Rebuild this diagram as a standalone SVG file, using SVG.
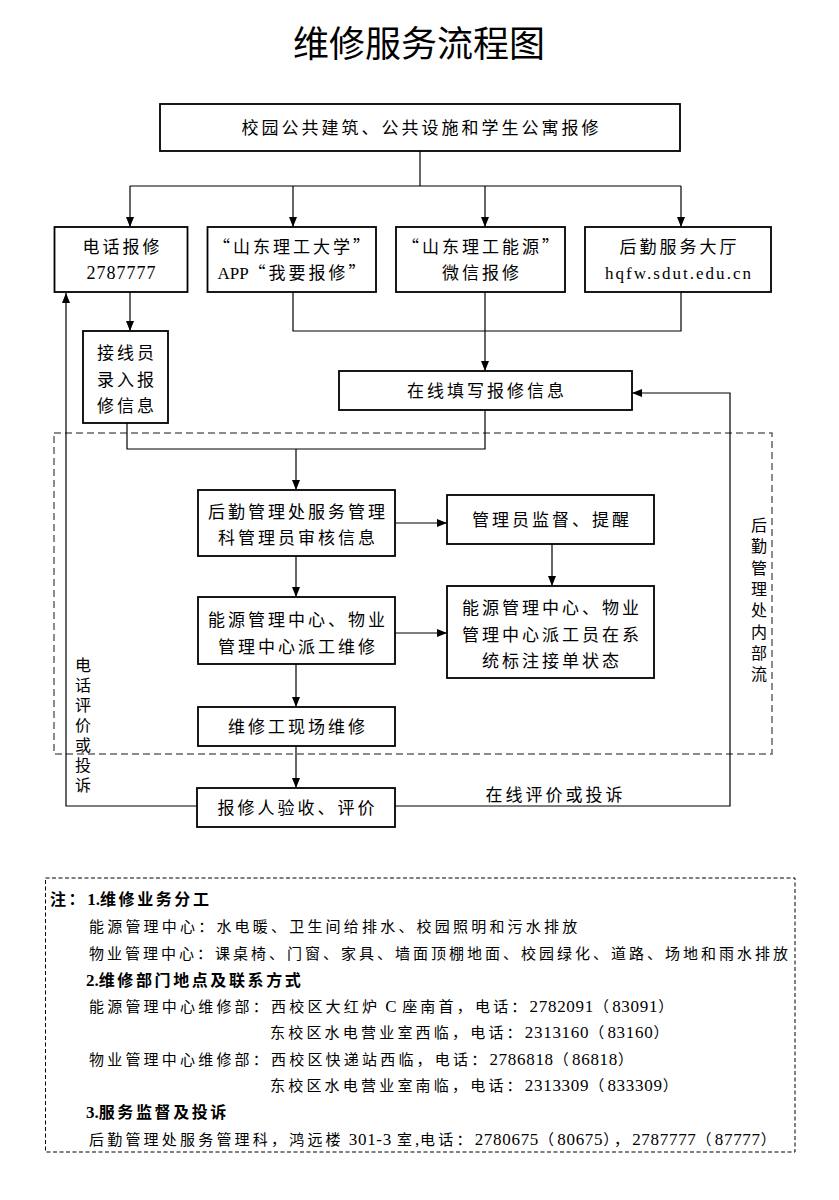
<svg xmlns="http://www.w3.org/2000/svg" width="839" height="1200" viewBox="0 0 839 1200">
<style>
.bx{fill:#fff;stroke:#000;stroke-width:1.8}
.ln{fill:none;stroke:#000;stroke-width:1.2}
.ar{fill:none;stroke:#000;stroke-width:1.2;marker-end:url(#ah)}
.t{font-family:"Noto Sans CJK SC",sans-serif;font-size:17px;letter-spacing:3px;fill:#000;text-anchor:middle}
.v{font-family:"Noto Sans CJK SC",sans-serif;font-size:16px;fill:#000;writing-mode:vertical-rl;text-anchor:start}
.l{font-family:"Liberation Serif",serif}
.n{font-family:"Noto Sans CJK SC",sans-serif;font-size:15px;letter-spacing:3.2px;fill:#000}
.d{font-family:"Liberation Serif",serif;font-size:17px;letter-spacing:0.7px}
.b{font-family:"Noto Sans CJK SC",sans-serif;font-size:16px;font-weight:bold;letter-spacing:2.6px;fill:#000}
.bd{font-family:"Liberation Serif",serif;font-size:17px;font-weight:bold;letter-spacing:0}
</style>
<defs>
<marker id="ah" viewBox="0 0 10 8" refX="10" refY="4" markerWidth="10" markerHeight="8" markerUnits="userSpaceOnUse" orient="auto"><path d="M0,0 L10,4 L0,8 z" fill="#000"/></marker>
</defs>
<rect width="839" height="1200" fill="#fff"/>
<text x="419" y="57" style="font-family:'Noto Sans CJK SC',sans-serif;font-size:36px;text-anchor:middle">维修服务流程图</text>

<g id="inner-dashed">
<rect x="54" y="433" width="718" height="321" fill="none" stroke="#666" stroke-width="1.5" stroke-dasharray="7,4"/>
</g>

<g id="connectors">
<line class="ln" x1="420" y1="151" x2="420" y2="186"/>
<line class="ln" x1="130" y1="186" x2="681" y2="186"/>
<line class="ar" x1="130" y1="186" x2="130" y2="227"/>
<line class="ar" x1="293" y1="186" x2="293" y2="227"/>
<line class="ar" x1="485" y1="186" x2="485" y2="227"/>
<line class="ar" x1="681" y1="186" x2="681" y2="227"/>
<line class="ar" x1="130" y1="292" x2="130" y2="331"/>
<polyline class="ln" points="293,292 293,331 681,331 681,292"/>
<line class="ar" x1="485" y1="292" x2="485" y2="371"/>
<polyline class="ln" points="127,423 127,449 485,449 485,410"/>
<line class="ar" x1="296" y1="449" x2="296" y2="490"/>
<line class="ar" x1="395" y1="523" x2="447" y2="523"/>
<line class="ar" x1="552" y1="544" x2="552" y2="586"/>
<line class="ar" x1="296" y1="556" x2="296" y2="597"/>
<line class="ar" x1="395" y1="633" x2="447" y2="633"/>
<line class="ar" x1="296" y1="664" x2="296" y2="707"/>
<line class="ar" x1="296" y1="746" x2="296" y2="788"/>
<polyline class="ar" points="197,806 66,806 66,293"/>
<polyline class="ar" points="395,806 730,806 730,393 632,393"/>
<text class="t" x="555.5" y="801">在线评价或投诉</text>
</g>

<g id="n-top"><rect class="bx" x="160" y="104" width="520" height="47"/>
<text class="t" x="421.5" y="134">校园公共建筑、公共设施和学生公寓报修</text></g>

<g id="n-phone"><rect class="bx" x="54.5" y="227" width="133" height="65"/>
<text class="t" x="122.5" y="253">电话报修</text>
<text class="l" x="121.5" y="279" style="font-size:18px;letter-spacing:1px;text-anchor:middle">2787777</text></g>

<g id="n-app"><rect class="bx" x="207.5" y="227" width="168.5" height="65"/>
<text class="t" x="293" y="253">“山东理工大学”</text>
<text class="t" x="293" y="279"><tspan class="l" style="letter-spacing:0">APP</tspan>“我要报修”</text></g>

<g id="n-wechat"><rect class="bx" x="396" y="227" width="169" height="65"/>
<text class="t" x="482" y="253">“山东理工能源”</text>
<text class="t" x="482" y="279">微信报修</text></g>

<g id="n-hall"><rect class="bx" x="585" y="227" width="186" height="65"/>
<text class="t" x="679.5" y="253">后勤服务大厅</text>
<text class="l" x="605" y="279" textLength="146" lengthAdjust="spacing" style="font-size:17px">hqfw.sdut.edu.cn</text></g>

<g id="n-operator"><rect class="bx" x="83" y="331" width="85" height="92"/>
<text class="t" x="127" y="359">接线员</text>
<text class="t" x="127" y="386">录入报</text>
<text class="t" x="127" y="412">修信息</text></g>

<g id="n-online"><rect class="bx" x="339" y="371" width="293" height="39"/>
<text class="t" x="487" y="397">在线填写报修信息</text></g>

<g id="n-review"><rect class="bx" x="198" y="490" width="197" height="66"/>
<text class="t" x="298" y="518">后勤管理处服务管理</text>
<text class="t" x="298" y="544">科管理员审核信息</text></g>

<g id="n-supervise"><rect class="bx" x="447" y="495" width="207" height="49"/>
<text class="t" x="552" y="526">管理员监督、提醒</text></g>

<g id="n-status"><rect class="bx" x="447" y="586" width="207" height="92"/>
<text class="t" x="552" y="614">能源管理中心、物业</text>
<text class="t" x="552" y="641">管理中心派工员在系</text>
<text class="t" x="552" y="667">统标注接单状态</text></g>

<g id="n-dispatch"><rect class="bx" x="198" y="597" width="197" height="67"/>
<text class="t" x="298" y="626">能源管理中心、物业</text>
<text class="t" x="298" y="653">管理中心派工维修</text></g>

<g id="n-repair"><rect class="bx" x="198" y="707" width="197" height="39"/>
<text class="t" x="298" y="733">维修工现场维修</text></g>

<g id="n-accept"><rect class="bx" x="197" y="788" width="198" height="39"/>
<text class="t" x="297.5" y="814">报修人验收、评价</text></g>

<g id="label-internal">
<text class="v" x="759" y="517" style="letter-spacing:5.3px">后勤管理处内部流</text>
</g>
<g id="label-phone-eval">
<text class="v" x="83" y="657" style="letter-spacing:4px">电话评价或投诉</text>
</g>

<g id="notes">
<rect x="45.5" y="878" width="749.5" height="274" fill="none" stroke="#000" stroke-width="1" stroke-dasharray="4,2.5"/>
<text class="b" x="50" y="905">注：<tspan class="bd">1.</tspan>维修业务分工</text>
<text class="n" x="89" y="932">能源管理中心：水电暖、卫生间给排水、校园照明和污水排放</text>
<text class="n" x="89" y="959" style="letter-spacing:3px">物业管理中心：课桌椅、门窗、家具、墙面顶棚地面、校园绿化、道路、场地和雨水排放</text>
<text class="b" x="86" y="986"><tspan class="bd">2.</tspan>维修部门地点及联系方式</text>
<text class="n" x="89" y="1012">能源管理中心维修部：西校区大红炉<tspan class="d"> C </tspan>座南首，电话：<tspan class="d">2782091</tspan>（<tspan class="d">83091</tspan>）</text>
<text class="n" x="270" y="1038">东校区水电营业室西临，电话：<tspan class="d">2313160</tspan>（<tspan class="d">83160</tspan>）</text>
<text class="n" x="89" y="1065">物业管理中心维修部：西校区快递站西临，电话：<tspan class="d">2786818</tspan>（<tspan class="d">86818</tspan>）</text>
<text class="n" x="270" y="1091">东校区水电营业室南临，电话：<tspan class="d">2313309</tspan>（<tspan class="d">833309</tspan>）</text>
<text class="b" x="86" y="1118"><tspan class="bd">3.</tspan>服务监督及投诉</text>
<text class="n" x="89" y="1145">后勤管理处服务管理科，鸿远楼<tspan class="d"> 301-3 </tspan>室<tspan class="d">,</tspan>电话：<tspan class="d">2780675</tspan>（<tspan class="d">80675</tspan>），<tspan class="d">2787777</tspan>（<tspan class="d">87777</tspan>）</text>
</g>
</svg>
